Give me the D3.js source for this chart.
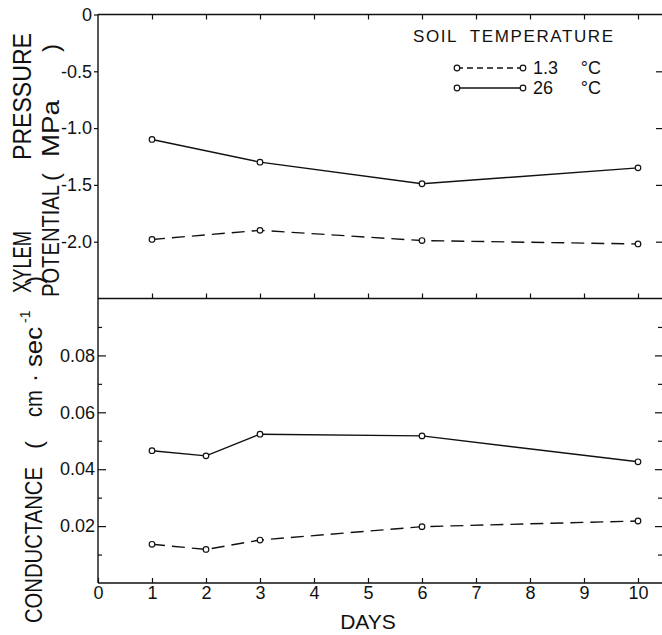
<!DOCTYPE html>
<html>
<head>
<meta charset="utf-8">
<script src="https://cdn.jsdelivr.net/npm/d3@7"></script>
<style>
  body { margin: 0; background: #fff; }
  text { font-family: "Liberation Sans", Arial, sans-serif; fill: #111; }
</style>
</head>
<body>
<svg id="chart" width="662" height="635"></svg>
<script>
// values
const psiDays = [1, 3, 6, 10];
const psiCold = [-1.98, -1.90, -1.99, -2.02];   // 1.3 C soil
const psiWarm = [-1.10, -1.30, -1.49, -1.35];   // 26 C soil
const condDays = [1, 2, 3, 6, 10];
const condCold = [0.0136, 0.0118, 0.0151, 0.0198, 0.0218];
const condWarm = [0.0465, 0.0447, 0.0523, 0.0517, 0.0426];
const seriesNames = ["1.3", "26"];
const dayTicks = [0, 1, 2, 3, 4, 5, 6, 7, 8, 9, 10];
const psiTicks = [0, -0.5, -1.0, -1.5, -2.0];
const condTicks = [0.02, 0.04, 0.06, 0.08];
const condMinor = [0.01, 0.03, 0.05, 0.07, 0.09];

const svg = d3.select("#chart");
const W = 662;
const ink = "#111";

const x = d3.scaleLinear().domain([0, 10]).range([98, 638]);
const yTop = d3.scaleLinear().domain([-2.5, 0]).range([298.5, 14.5]);
const yBot = d3.scaleLinear().domain([0, 0.1]).range([583, 298.5]);

// frame
const frame = svg.append("g").attr("stroke", ink).attr("stroke-width", 1.4);
[yTop(0), yTop(-2.5), yBot(0)].forEach(yy => {
  frame.append("line").attr("x1", x(0)).attr("x2", W).attr("y1", yy).attr("y2", yy);
});
frame.append("line").attr("x1", x(0)).attr("x2", x(0)).attr("y1", yTop(0)).attr("y2", yBot(0));

function styleAxis(g, size) {
  g.select(".domain").remove();
  g.selectAll(".tick line").attr("stroke", ink).attr("stroke-width", 1.2);
  g.selectAll(".tick text").attr("font-size", size || 18).attr("fill", ink);
}

// x axis (bottom) with labels
svg.append("g").attr("transform", `translate(0,${yBot(0)})`)
  .call(d3.axisBottom(x).tickValues(dayTicks).tickSizeInner(-5).tickSizeOuter(0).tickPadding(3).tickFormat(d3.format("d")))
  .call(g => styleAxis(g, 18));

// day ticks on the top line and on the middle line
svg.append("g").attr("transform", `translate(0,${yTop(0)})`)
  .call(d3.axisTop(x).tickValues(dayTicks.slice(1)).tickSizeInner(-5).tickSizeOuter(0).tickFormat(""))
  .call(g => styleAxis(g));
svg.append("g").attr("transform", `translate(0,${yTop(-2.5)})`)
  .call(d3.axisBottom(x).tickValues(dayTicks.slice(1)).tickSizeInner(-5).tickSizeOuter(0).tickFormat(""))
  .call(g => styleAxis(g));

// left axes
svg.append("g").attr("transform", `translate(${x(0)},0)`)
  .call(d3.axisLeft(yTop).tickValues(psiTicks).tickSizeInner(4).tickSizeOuter(0).tickPadding(2)
    .tickFormat(d => d === 0 ? "0" : d.toFixed(1)))
  .call(g => styleAxis(g, 18));
svg.append("g").attr("transform", `translate(${x(0)},0)`)
  .call(d3.axisLeft(yBot).tickValues(condTicks).tickSizeInner(-8).tickSizeOuter(0).tickPadding(3)
    .tickFormat(d3.format(".2f")))
  .call(g => styleAxis(g, 18));
svg.append("g").attr("transform", `translate(${x(0)},0)`)
  .call(d3.axisLeft(yBot).tickValues(condMinor).tickSizeInner(-4).tickSizeOuter(0).tickFormat(""))
  .call(g => styleAxis(g));

// right side ticks (axis line falls off the page)
svg.append("g").attr("transform", `translate(${W},0)`)
  .call(d3.axisRight(yTop).tickValues(psiTicks.slice(1)).tickSizeInner(-6).tickSizeOuter(0).tickFormat(""))
  .call(g => styleAxis(g));
svg.append("g").attr("transform", `translate(${W},0)`)
  .call(d3.axisRight(yBot).tickValues(condTicks).tickSizeInner(-7).tickSizeOuter(0).tickFormat(""))
  .call(g => styleAxis(g));
svg.append("g").attr("transform", `translate(${W},0)`)
  .call(d3.axisRight(yBot).tickValues(condMinor).tickSizeInner(-4).tickSizeOuter(0).tickFormat(""))
  .call(g => styleAxis(g));

// series
const dashes = ["13,7", null];
function drawSeries(days, vals, yScale, dash) {
  const pts = days.map((d, i) => [x(d), yScale(vals[i])]);
  svg.append("path")
    .attr("d", d3.line()(pts))
    .attr("fill", "none").attr("stroke", ink).attr("stroke-width", 1.4)
    .attr("stroke-dasharray", dash);
  svg.append("g").selectAll("circle").data(pts).join("circle")
    .attr("cx", p => p[0]).attr("cy", p => p[1]).attr("r", 2.8)
    .attr("fill", "#fff").attr("stroke", ink).attr("stroke-width", 1.2);
}
drawSeries(psiDays, psiCold, yTop, dashes[0]);
drawSeries(psiDays, psiWarm, yTop, dashes[1]);
drawSeries(condDays, condCold, yBot, dashes[0]);
drawSeries(condDays, condWarm, yBot, dashes[1]);

// legend
const leg = svg.append("g");
leg.append("text").attr("x", 413).attr("y", 42).attr("font-size", 17)
  .attr("textLength", 200).attr("lengthAdjust", "spacing").text("SOIL  TEMPERATURE")
  .style("white-space", "pre");
seriesNames.forEach((name, i) => {
  const yy = 68 + i * 20;
  leg.append("line").attr("x1", 457).attr("x2", 523).attr("y1", yy).attr("y2", yy)
    .attr("stroke", ink).attr("stroke-width", 1.4)
    .attr("stroke-dasharray", i === 0 ? "6,4" : null);
  leg.selectAll(null).data([457, 523]).join("circle")
    .attr("cx", d => d).attr("cy", yy).attr("r", 2.8)
    .attr("fill", "#fff").attr("stroke", ink).attr("stroke-width", 1.2);
  leg.append("text").attr("x", 533).attr("y", yy + 6).attr("font-size", 18).text(name);
  leg.append("text").attr("x", 601).attr("y", yy + 6).attr("font-size", 18)
    .attr("text-anchor", "end").text("°C");
});

// axis titles
svg.append("text").attr("x", x(5)).attr("y", 629).attr("text-anchor", "middle")
  .attr("font-size", 21).text("DAYS");

function vlabel(pieces) {
  pieces.forEach(p => {
    const t = svg.append("text")
      .attr("transform", `translate(${p.bx},${p.start}) rotate(-90)`)
      .attr("font-size", p.size).text(p.s);
    if (p.len) t.attr("textLength", p.len).attr("lengthAdjust", "spacingAndGlyphs");
  });
}
vlabel([
  { s: "XYLEM", bx: 31, start: 293, size: 25, len: 62 },
  { s: "PRESSURE", bx: 31, start: 160, size: 25, len: 127 },
  { s: "POTENTIAL", bx: 59, start: 297, size: 24, len: 112 },
  { s: "(", bx: 59, start: 181, size: 24 },
  { s: "MPa", bx: 59, start: 157, size: 24, len: 57 },
  { s: ")", bx: 59, start: 52, size: 24 },
  { s: "CONDUCTANCE", bx: 42, start: 623, size: 24, len: 156 },
  { s: "(", bx: 42, start: 449, size: 24 },
  { s: "cm", bx: 42, start: 417, size: 24, len: 27 },
  { s: "·", bx: 42, start: 382, size: 24 },
  { s: "sec", bx: 42, start: 367, size: 24, len: 40 },
  { s: "-1", bx: 30, start: 323, size: 14 },
  { s: ")", bx: 42, start: 284, size: 24 }
]);
</script>
</body>
</html>
